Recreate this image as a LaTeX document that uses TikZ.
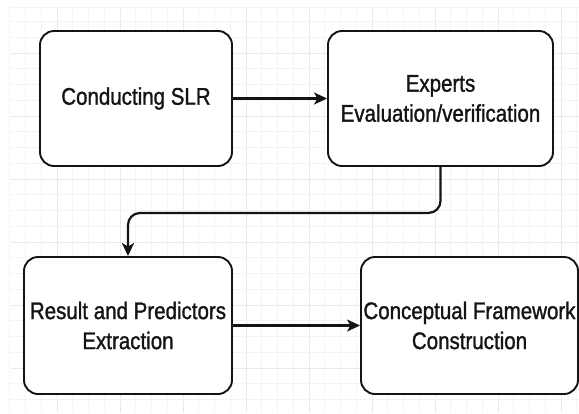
\documentclass[tikz,border=0pt]{standalone}
\usepackage{fontspec}
\setmainfont{Liberation Sans}[FakeStretch=0.855,FakeBold=1.2]
\usetikzlibrary{arrows.meta}
\definecolor{gridminor}{HTML}{F4F4F4}
\definecolor{gridmajor}{HTML}{EAEAEA}
\definecolor{ink}{HTML}{141414}
\tikzset{
  stepbox/.style={draw=ink, line width=1.9pt, rounded corners=14pt, fill=white,
    inner sep=0pt, align=center, text=ink,
    font=\fontsize{24}{30}\selectfont},
  conn/.style={draw=ink, line width=2.2pt,
    -{Stealth[length=13pt,width=12pt,inset=3.5pt]}},
  gmin/.style={draw=gridminor, line width=0.7pt},
  gmaj/.style={draw=gridmajor, line width=0.9pt}
}
\begin{document}
\begin{tikzpicture}[x=1pt,y=-1pt]
\useasboundingbox (0,0) rectangle (579,413);
\fill[white] (0,0) rectangle (579,413);
% background grid
\foreach \k in {0,...,36}{
  \pgfmathtruncatemacro{\m}{mod(\k,4)}
  \ifnum\m=3
    \draw[gmaj] ({9.75+15.75*\k},7) -- ({9.75+15.75*\k},413);
  \else
    \draw[gmin] ({9.75+15.75*\k},7) -- ({9.75+15.75*\k},413);
  \fi
}
\draw[gmin] (11,7) -- (579,7);
\foreach \k in {1,...,25}{
  \pgfmathtruncatemacro{\m}{mod(\k,4)}
  \ifnum\m=3
    \draw[gmaj] (11,{5.75+15.75*\k}) -- (579,{5.75+15.75*\k});
  \else
    \draw[gmin] (11,{5.75+15.75*\k}) -- (579,{5.75+15.75*\k});
  \fi
}
% boxes
\node[stepbox, minimum width=192pt, minimum height=135pt] (b1) at (136,98.5) {Conducting SLR};
\node[stepbox, minimum width=225pt, minimum height=135pt] (b2) at (440.5,98.5) {Experts\\Evaluation/verification};
\node[stepbox, minimum width=208pt, minimum height=137pt] (b3) at (128,325.5) {Result and Predictors\\Extraction};
\node[stepbox, minimum width=217pt, minimum height=137pt] (b4) at (469.5,325.5) {Conceptual Framework\\Construction};
% connectors
\draw[conn] (b1) -- (b2);
\draw[conn, rounded corners=12pt] (b2.south) -- ++(0,46) -| (b3.north);
\draw[conn] (b3) -- (b4);
\end{tikzpicture}
\end{document}
